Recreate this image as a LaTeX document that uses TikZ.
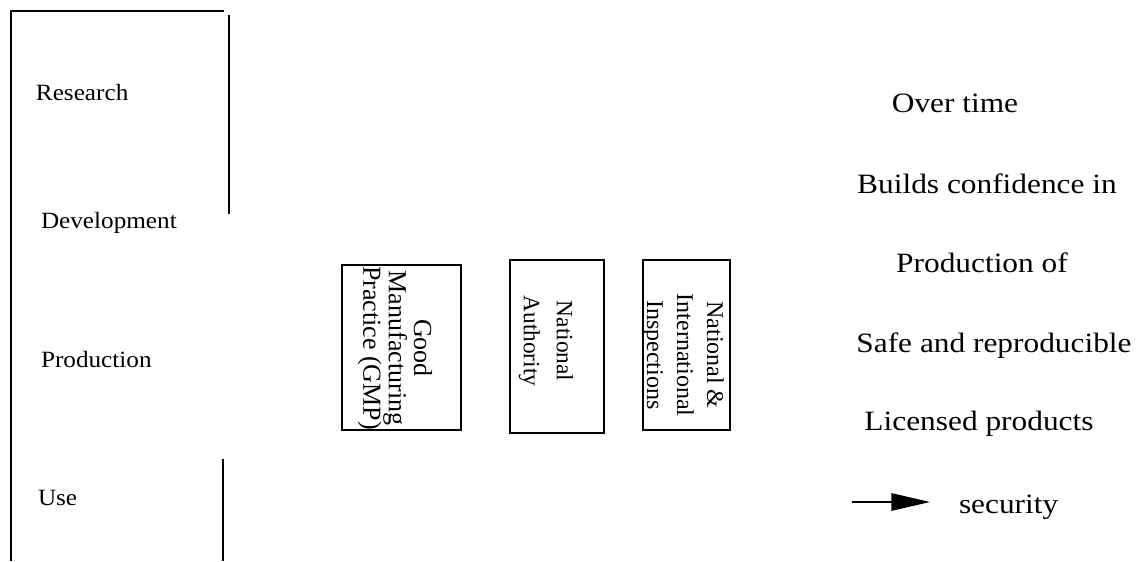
\documentclass[tikz,border=0pt]{standalone}
\usepackage{fontspec}
\setmainfont{Liberation Serif}
\newfontfamily\rfont[FakeStretch=1.12]{Liberation Serif}
\newfontfamily\lfont[FakeStretch=1.08]{Liberation Serif}
\usetikzlibrary{arrows.meta}
\begin{document}
\begin{tikzpicture}[x=0.75pt,y=-0.75pt,line width=1.5pt,
  lab/.style={font=\lfont\fontsize{17.5}{20}\selectfont,anchor=base west,inner sep=0pt},
  rt/.style={font=\rfont\fontsize{21}{24}\selectfont,anchor=base,inner sep=0pt},
  boxnode/.style={draw,line width=1.5pt,inner sep=0pt,fill=none},
  vtext/.style={rotate=-90,align=center,inner sep=0pt}]
\useasboundingbox (0,0) rectangle (1141,561);
% left frame
\coordinate (f0) at (11,561);
\coordinate (f1) at (11,11);
\coordinate (f2) at (224,11);
\coordinate (r0) at (229,15);
\coordinate (r1) at (229,214);
\coordinate (u0) at (223,459);
\coordinate (u1) at (223,561);
\draw (f0) -- (f1) -- (f2);
\draw (r0) -- (r1);
\draw (u0) -- (u1);
% left labels
\node[lab] (research) at (35,100) {Research};
\node[lab] (development) at (40,228) {Development};
\node[lab] (production) at (40,367) {Production};
\node[lab] (use) at (37,505) {Use};
% boxes
\node[boxnode,minimum width=89.25pt,minimum height=123.75pt] (b1) at (401.5,347.5) {};
\node[boxnode,minimum width=70.5pt,minimum height=129.75pt] (b2) at (557,346.5) {};
\node[boxnode,minimum width=65.25pt,minimum height=127.5pt] (b3) at (686.5,345) {};
\node[vtext,font=\fontsize{19.5}{19}\selectfont] (t1) at (395,348) {Good\\Manufacturing\\Practice (GMP)};
\node[vtext,font=\fontsize{17.5}{24.75}\selectfont] (t2) at (546,341) {National\\Authority};
\node[vtext,font=\fontsize{18}{22.5}\selectfont] (t3) at (683,355) {National \&\\International\\Inspections};
% right text
\node[rt] (o1) at (955,112) {Over time};
\node[rt] (o2) at (987,193) {Builds confidence in};
\node[rt] (o3) at (982,272) {Production of};
\node[rt] (o4) at (994,352) {Safe and reproducible};
\node[rt] (o5) at (979,430) {Licensed products};
\coordinate (a0) at (852,502);
\coordinate (a1) at (930,502);
\draw[-{Triangle[length=29pt,width=13pt]}] (a0) -- (a1);
\node[rt,anchor=base west] (sec) at (958,513) {security};
\end{tikzpicture}
\end{document}
